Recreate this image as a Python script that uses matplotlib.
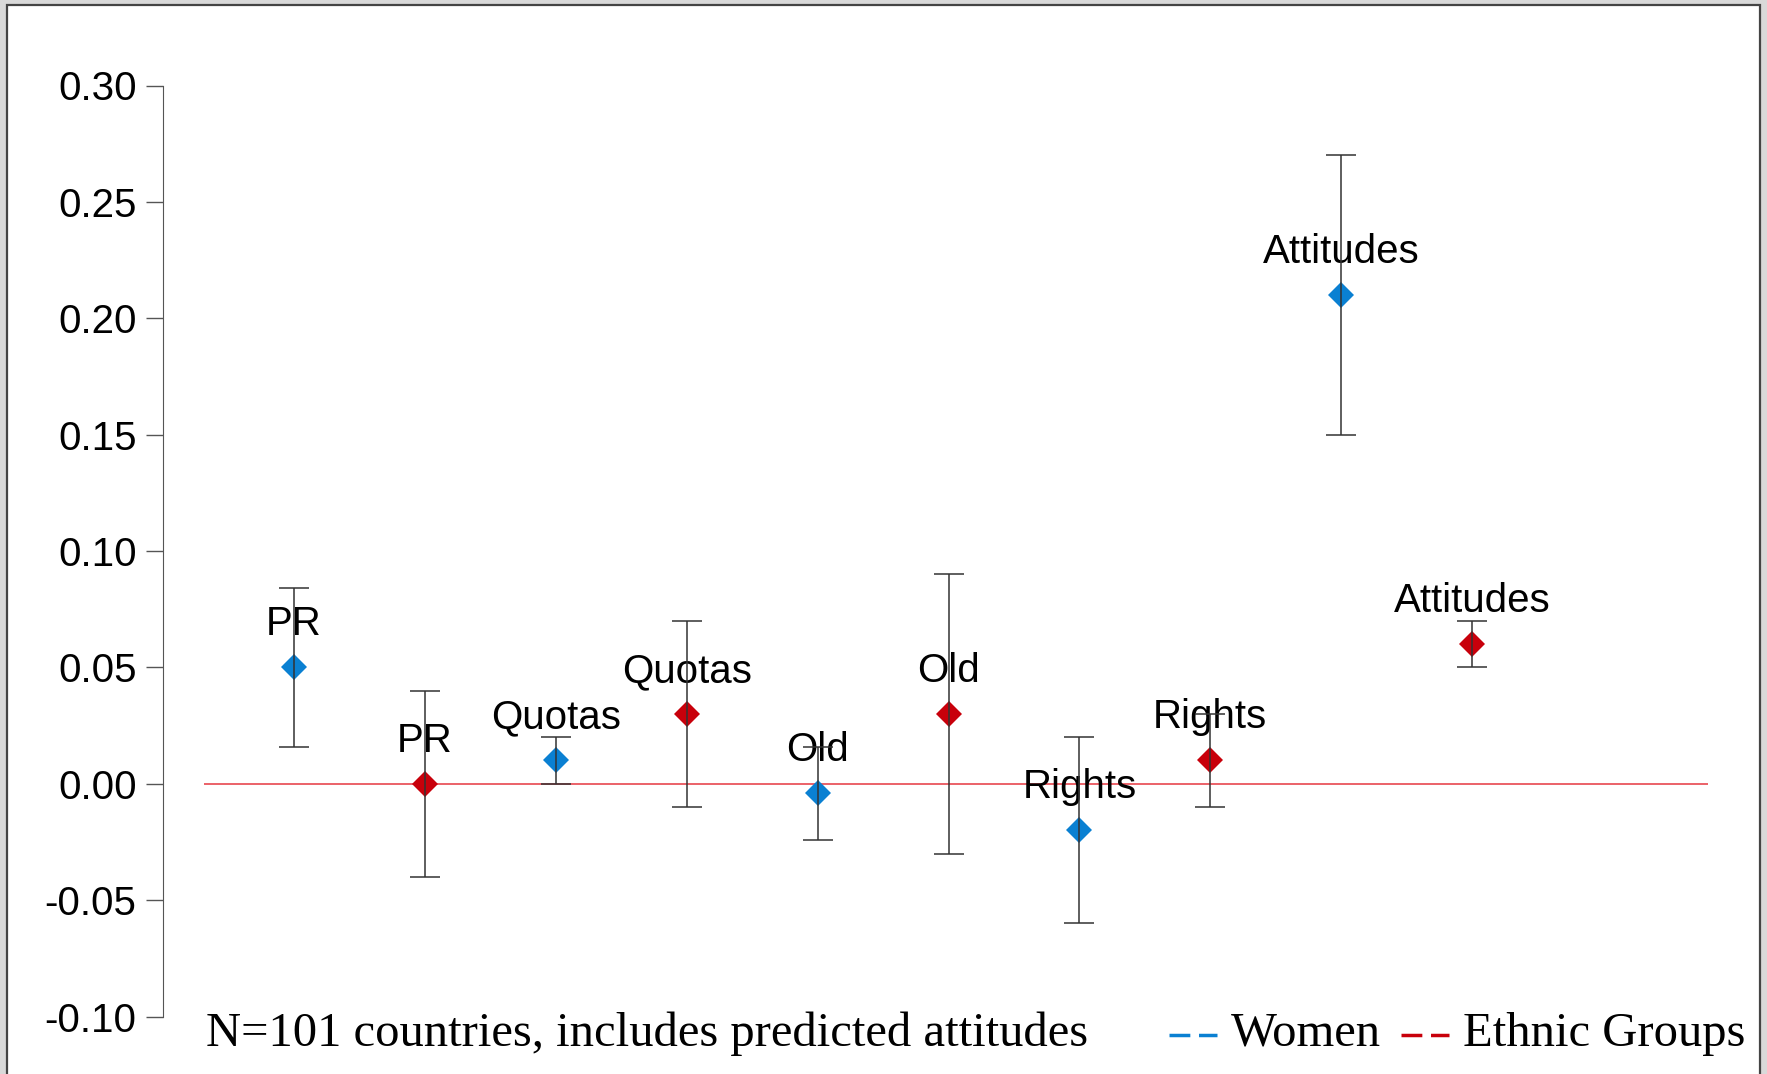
import matplotlib.pyplot as plt
from matplotlib.patches import Rectangle
from matplotlib.lines import Line2D

plt.rcParams['axes.unicode_minus'] = False

etiquetas = ['PR', 'Quotas', 'Old', 'Rights', 'Attitudes']

# women
mujeres = [0.05, 0.01, -0.004, -0.02, 0.21]
mujeres_bajo = [0.016, 0.0, -0.024, -0.06, 0.15]
mujeres_alto = [0.084, 0.02, 0.016, 0.02, 0.27]

# ethnic groups
etnicos = [0.0, 0.03, 0.03, 0.01, 0.06]
etnicos_bajo = [-0.04, -0.01, -0.03, -0.01, 0.05]
etnicos_alto = [0.04, 0.07, 0.09, 0.03, 0.07]

yticks = [-0.10, -0.05, 0.00, 0.05, 0.10, 0.15, 0.20, 0.25, 0.30]

azul = '#0a80d2'
rojo = '#c8000b'

fig = plt.figure(figsize=(17.67, 10.74), dpi=100, facecolor='#d9d9d9')
fig.add_artist(Rectangle((7 / 1767, -0.05), 1753 / 1767, 1.05 - 5 / 1074,
                         transform=fig.transFigure, facecolor='white',
                         edgecolor='#444444', linewidth=1.6, zorder=0))

ax = fig.add_axes([163 / 1767, 57.5 / 1074, 1571 / 1767, 931 / 1074])
ax.set_facecolor('none')

ax.hlines(0, 0.31, 11.8, color='#e8474f', linewidth=1.2, zorder=1)

for i, et in enumerate(etiquetas):
    for j, (serie, bajo, alto, col) in enumerate([
            (mujeres, mujeres_bajo, mujeres_alto, azul),
            (etnicos, etnicos_bajo, etnicos_alto, rojo)]):
        x = 1 + 2 * i + j
        y = serie[i]
        ax.plot(x, y, marker='D', markersize=13.5, color=col, markeredgewidth=0, zorder=2)
        ax.errorbar(x, y, yerr=[[y - bajo[i]], [alto[i] - y]], fmt='none',
                    ecolor='#333333', elinewidth=1.1, capsize=11, capthick=1.1, zorder=4)
        ax.text(x, y + 0.0185, et, ha='center', va='center', fontsize=29,
                family='Liberation Sans', zorder=3)

ax.set_xlim(0, 12)
ax.set_ylim(-0.10, 0.30)
ax.set_yticks(yticks)
ax.set_yticklabels(['%.2f' % v for v in yticks], family='Liberation Sans', fontsize=29)
ax.set_xticks([])
for lado in ['top', 'right', 'bottom']:
    ax.spines[lado].set_visible(False)
ax.spines['left'].set_color('#555555')
ax.tick_params(axis='y', direction='out', length=12, width=1, color='#555555', pad=7)

fig.text(206 / 1767, 1 - 1046 / 1074, 'N=101 countries, includes predicted attitudes',
         family='Liberation Serif', fontsize=35, va='baseline', ha='left')

# legend
yl = 1 - 1035 / 1074
for x0, col, txt, xt in [(1169, azul, 'Women', 1231), (1401, rojo, 'Ethnic Groups', 1463)]:
    fig.add_artist(Line2D([x0 / 1767, (x0 + 48) / 1767], [yl, yl], transform=fig.transFigure,
                          color=col, linewidth=2.5, dashes=(6, 2.5)))
    fig.text(xt / 1767, 1 - 1046 / 1074, txt, family='Liberation Serif', fontsize=35,
             va='baseline', ha='left')

fig.savefig('out.png', dpi=100, facecolor=fig.get_facecolor())
